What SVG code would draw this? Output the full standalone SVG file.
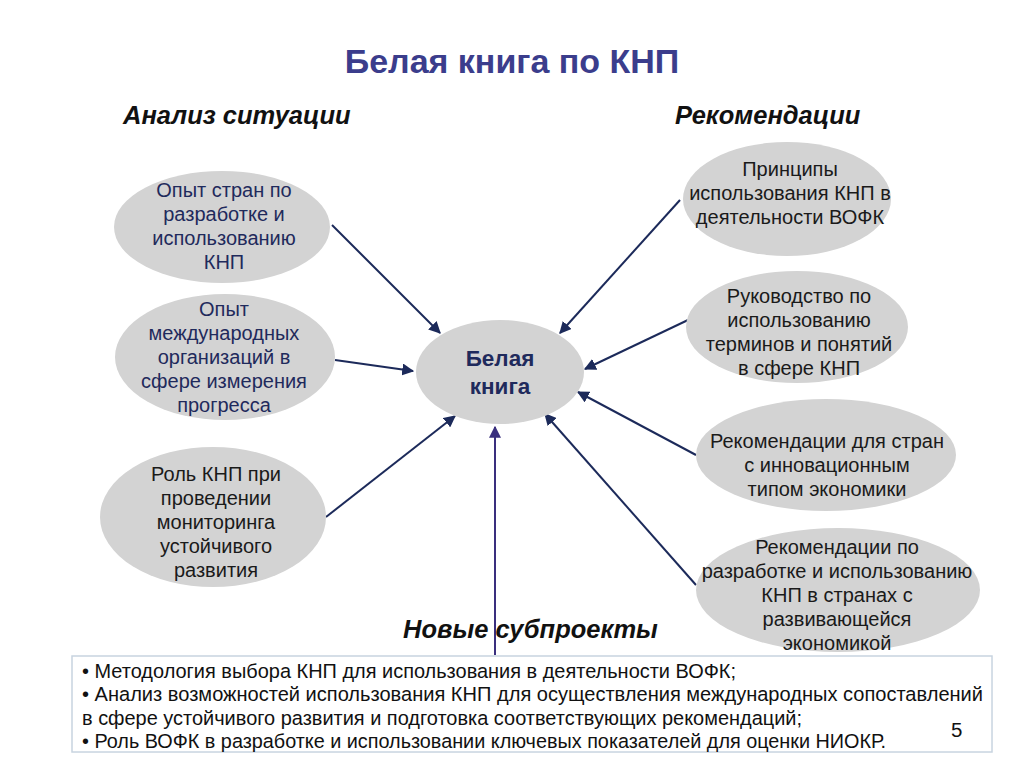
<svg xmlns="http://www.w3.org/2000/svg" width="1024" height="768" viewBox="0 0 1024 768">
<defs>
<style>
.n{fill:#d3d3d3;stroke:none}
.lt{font-family:"Liberation Sans",Arial,sans-serif;font-size:20px;fill:#1f2a5c;text-anchor:middle}
.rt{font-family:"Liberation Sans",Arial,sans-serif;font-size:20px;fill:#1a1a1a;text-anchor:middle}
.h{font-family:"Liberation Sans",Arial,sans-serif;font-size:25.5px;font-weight:bold;font-style:italic;fill:#111}
.c{stroke:#1c2a5a;stroke-width:2;fill:none;marker-end:url(#ah)}
.b{font-family:"Liberation Sans",Arial,sans-serif;font-size:20.5px;fill:#111}
</style>
<marker id="ah" viewBox="0 0 10 10" refX="9" refY="5" markerWidth="6" markerHeight="6" orient="auto" markerUnits="strokeWidth">
<path d="M0,0 L10,5 L0,10 z" fill="#1c2a5a"/>
</marker>
<marker id="ah2" viewBox="0 0 10 10" refX="9" refY="5" markerWidth="6" markerHeight="6" orient="auto" markerUnits="strokeWidth">
<path d="M0,0 L10,5 L0,10 z" fill="#3a2f7e"/>
</marker>
</defs>
<rect width="1024" height="768" fill="#fff"/>
<text x="512" y="73" text-anchor="middle" font-family="Liberation Sans,Arial,sans-serif" font-size="34" font-weight="bold" fill="#3b3d8c">Белая книга по КНП</text>
<text class="h" x="123" y="124">Анализ ситуации</text>
<text class="h" x="675" y="124">Рекомендации</text>

<g id="connectors">
<line class="c" x1="332" y1="225" x2="440" y2="333"/>
<line class="c" x1="335" y1="360" x2="413" y2="371"/>
<line class="c" x1="326" y1="517" x2="455" y2="416"/>
<line class="c" x1="680" y1="200" x2="560" y2="333"/>
<line class="c" x1="688" y1="320" x2="585" y2="369"/>
<line class="c" x1="696" y1="455" x2="578" y2="392"/>
<line class="c" x1="696" y1="585" x2="545" y2="414"/>
<line x1="495" y1="655" x2="495" y2="427" stroke="#3a2f7e" stroke-width="2" marker-end="url(#ah2)"/>
</g>

<g id="n1"><ellipse class="n" cx="222" cy="227" rx="108" ry="56"/>
<text class="lt"><tspan x="224" y="197">Опыт стран по</tspan><tspan x="224" y="221">разработке и</tspan><tspan x="224" y="245">использованию</tspan><tspan x="224" y="269">КНП</tspan></text></g>

<g id="n2"><ellipse class="n" cx="225" cy="357" rx="110" ry="63"/>
<text class="lt"><tspan x="224" y="316">Опыт</tspan><tspan x="224" y="340">международных</tspan><tspan x="224" y="364">организаций в</tspan><tspan x="224" y="388">сфере измерения</tspan><tspan x="224" y="412">прогресса</tspan></text></g>

<g id="n3"><ellipse class="n" cx="213" cy="517" rx="113" ry="70"/>
<text class="rt"><tspan x="216" y="481">Роль КНП при</tspan><tspan x="216" y="505">проведении</tspan><tspan x="216" y="529">мониторинга</tspan><tspan x="216" y="553">устойчивого</tspan><tspan x="216" y="577">развития</tspan></text></g>

<g id="center"><ellipse class="n" cx="500" cy="372" rx="84" ry="52"/>
<text text-anchor="middle" font-family="Liberation Sans,Arial,sans-serif" font-size="22.5" font-weight="bold" fill="#1f2a5c"><tspan x="500" y="366">Белая</tspan><tspan x="500" y="394">книга</tspan></text></g>

<g id="r1"><ellipse class="n" cx="787" cy="199" rx="104" ry="57"/>
<text class="rt"><tspan x="790" y="176">Принципы</tspan><tspan x="790" y="200">использования КНП в</tspan><tspan x="790" y="224">деятельности ВОФК</tspan></text></g>

<g id="r2"><ellipse class="n" cx="797" cy="327" rx="111" ry="56"/>
<text class="rt"><tspan x="799" y="303">Руководство по</tspan><tspan x="799" y="327">использованию</tspan><tspan x="799" y="351">терминов и понятий</tspan><tspan x="799" y="375">в сфере КНП</tspan></text></g>

<g id="r3"><ellipse class="n" cx="826" cy="455" rx="130" ry="56"/>
<text class="rt"><tspan x="827" y="448">Рекомендации для стран</tspan><tspan x="827" y="472">с инновационным</tspan><tspan x="827" y="496">типом экономики</tspan></text></g>

<g id="r4"><ellipse class="n" cx="838" cy="590" rx="142" ry="62"/>
<text class="rt"><tspan x="837" y="554">Рекомендации по</tspan><tspan x="837" y="578">разработке и использованию</tspan><tspan x="837" y="602">КНП в странах с</tspan><tspan x="837" y="626">развивающейся</tspan><tspan x="837" y="650">экономикой</tspan></text></g>

<text class="h" x="403" y="638">Новые субпроекты</text>

<g id="box"><rect x="72" y="656" width="920" height="96" fill="#fff" stroke="#c8d4e0" stroke-width="1.5"/>
<text class="b" x="82" y="678" textLength="654" lengthAdjust="spacingAndGlyphs">• Методология выбора КНП для использования в деятельности ВОФК;</text>
<text class="b" x="82" y="701" textLength="901" lengthAdjust="spacingAndGlyphs">• Анализ возможностей использования КНП для осуществления международных сопоставлений</text>
<text class="b" x="82" y="725" textLength="720" lengthAdjust="spacingAndGlyphs">в сфере устойчивого развития и подготовка соответствующих рекомендаций;</text>
<text class="b" x="82" y="748" textLength="804" lengthAdjust="spacingAndGlyphs">• Роль ВОФК в разработке и использовании ключевых показателей для оценки НИОКР.</text>
<text class="b" x="951" y="737">5</text>
</g>
</svg>
